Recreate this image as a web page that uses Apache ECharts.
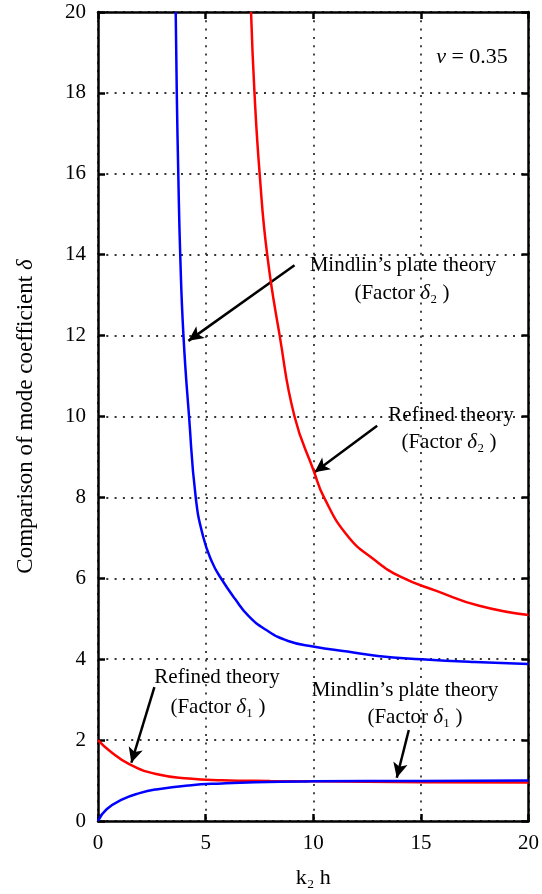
<!DOCTYPE html>
<html><head><meta charset="utf-8">
<script src="https://cdn.jsdelivr.net/npm/echarts@6/dist/echarts.min.js"></script>
<style>html,body{margin:0;padding:0;background:#fff}#c{width:542px;height:894px}</style>
</head><body><div id="c"></div>
<script>
// ---- data ----
const xRange = [0, 20];
const yRange = [0, 20];
const xTickStep = 5;
const yTickStep = 2;

// Mindlin's plate theory, factor delta2 (blue, upper)
const mindlinD2 = [[3.61,20],[3.66,18],[3.73,16],[3.82,14],[3.97,12],[4.23,10],[4.54,8],[4.89,7.02],[5.3,6.4],[5.69,6.02],[6.38,5.48],[6.99,5.07],[7.76,4.74],[8.83,4.45],[10.06,4.31],[11.59,4.19],[13.0,4.08],[15.03,4.0],[17.5,3.93],[20,3.88]];
// Refined theory, factor delta2 (red, upper)
const refinedD2 = [[7.11,20],[7.27,18],[7.51,16],[7.86,14],[8.44,12],[9.13,10],[10.02,8.66],[10.5,8.0],[11.59,7.05],[12.81,6.47],[14.05,6.04],[15.72,5.69],[17.71,5.32],[20,5.09]];
// Refined theory, factor delta1 (red, lower)
const refinedD1 = [[0,2.0],[0.55,1.73],[1.47,1.40],[2.7,1.16],[4.23,1.05],[5.76,1.01],[8,0.99],[10,0.98],[15,0.96],[20,0.95]];
// Mindlin's plate theory, factor delta1 (blue, lower)
const mindlinD1 = [[0,0],[0.4,0.29],[1.16,0.54],[1.93,0.69],[2.7,0.78],[4.23,0.88],[5.76,0.93],[7.29,0.96],[10,0.98],[15,0.99],[20,1.0]];

// annotation arrows: [from, to] in data coordinates
const arrows = [
  [[9.13,13.74],[4.20,11.87]],
  [[12.97,9.77],[10.06,8.62]],
  [[2.62,3.31],[1.55,1.44]],
  [[14.44,2.25],[13.88,1.07]]
];

// ---- chart ----
const FF = '"Liberation Serif", "DejaVu Serif", serif';
const chart = echarts.init(document.getElementById('c'), null, {renderer:'canvas'});
const axisLine = {show:true, onZero:false, lineStyle:{color:'#000', width:2.5}};
const axisTick = {show:true, inside:true, length:7, lineStyle:{color:'#000', width:2.5}};
const split = {show:true, lineStyle:{type:[2,6.3], color:'#333', width:1.8}};
const lab = {fontSize:21, fontFamily:FF, color:'#000'};

function txt(text, x, y, size) {
  size = size || 21;
  return {type:'text', x:x, y:y, z:100, style:{
    text:text, font:size+'px '+FF, fill:'#000', align:'center', verticalAlign:'middle',
    rich:{d:{fontStyle:'italic', fontFamily:FF, fontSize:size, fill:'#000'}}
  }};
}

const lineSeries = (name, data, color) => ({
  name:name, type:'line', data:data, showSymbol:false, smooth:0.5,
  lineStyle:{color:color, width:2.5}, itemStyle:{color:color}, clip:true, silent:true, z:5
});

const option = {
  animation:false,
  backgroundColor:'#fff',
  grid:{left:98, right:9, top:12, bottom:72, containLabel:false},
  xAxis:[
    {type:'value', min:xRange[0], max:xRange[1], interval:xTickStep, position:'bottom',
     axisLine:axisLine, axisTick:axisTick, splitLine:split,
     axisLabel:Object.assign({margin:12}, lab),
     name:'k\u2082 h', nameLocation:'middle', nameGap:46,
     nameTextStyle:{fontSize:22, fontFamily:FF, color:'#000'}},
    {type:'value', min:xRange[0], max:xRange[1], interval:xTickStep, position:'top',
     axisLine:axisLine, axisTick:axisTick, splitLine:{show:false}, axisLabel:{show:false}}
  ],
  yAxis:[
    {type:'value', min:yRange[0], max:yRange[1], interval:yTickStep, position:'left',
     axisLine:axisLine, axisTick:axisTick, splitLine:split,
     axisLabel:Object.assign({margin:12}, lab),
     name:'Comparison of mode coefficient {d|δ}', nameLocation:'middle', nameGap:61,
     nameTextStyle:{fontSize:23, fontFamily:FF, color:'#000',
       rich:{d:{fontStyle:'italic', fontSize:23, fontFamily:FF, color:'#000'}}}},
    {type:'value', min:yRange[0], max:yRange[1], interval:yTickStep, position:'right',
     axisLine:axisLine, axisTick:axisTick, splitLine:{show:false}, axisLabel:{show:false}}
  ],
  series:[
    lineSeries('Refined theory (δ2)', refinedD2, '#ff0000'),
    lineSeries('Mindlin (δ2)', mindlinD2, '#0000ff'),
    lineSeries('Refined theory (δ1)', refinedD1, '#ff0000'),
    Object.assign(lineSeries('Mindlin (δ1)', mindlinD1, '#0000ff'), {
      markLine:{silent:true, symbol:['none','arrow'], symbolSize:[11,15], precision:4,
        label:{show:false}, lineStyle:{color:'#000', width:2.5, type:'solid'},
        emphasis:{disabled:true},
        data:arrows.map(a => [{coord:a[0]},{coord:a[1]}])}
    })
  ],
  graphic:[
    txt('{d|ν} = 0.35', 472, 57, 22),
    txt('Mindlin’s plate theory', 403, 265),
    txt('(Factor {d|δ}₂ )', 402, 293),
    txt('Refined theory', 451, 415),
    txt('(Factor {d|δ}₂ )', 449, 442),
    txt('Refined theory', 217, 677),
    txt('(Factor {d|δ}₁ )', 218, 707),
    txt('Mindlin’s plate theory', 405, 690),
    txt('(Factor {d|δ}₁ )', 415, 717)
  ]
};
chart.setOption(option);
</script>
</body></html>
